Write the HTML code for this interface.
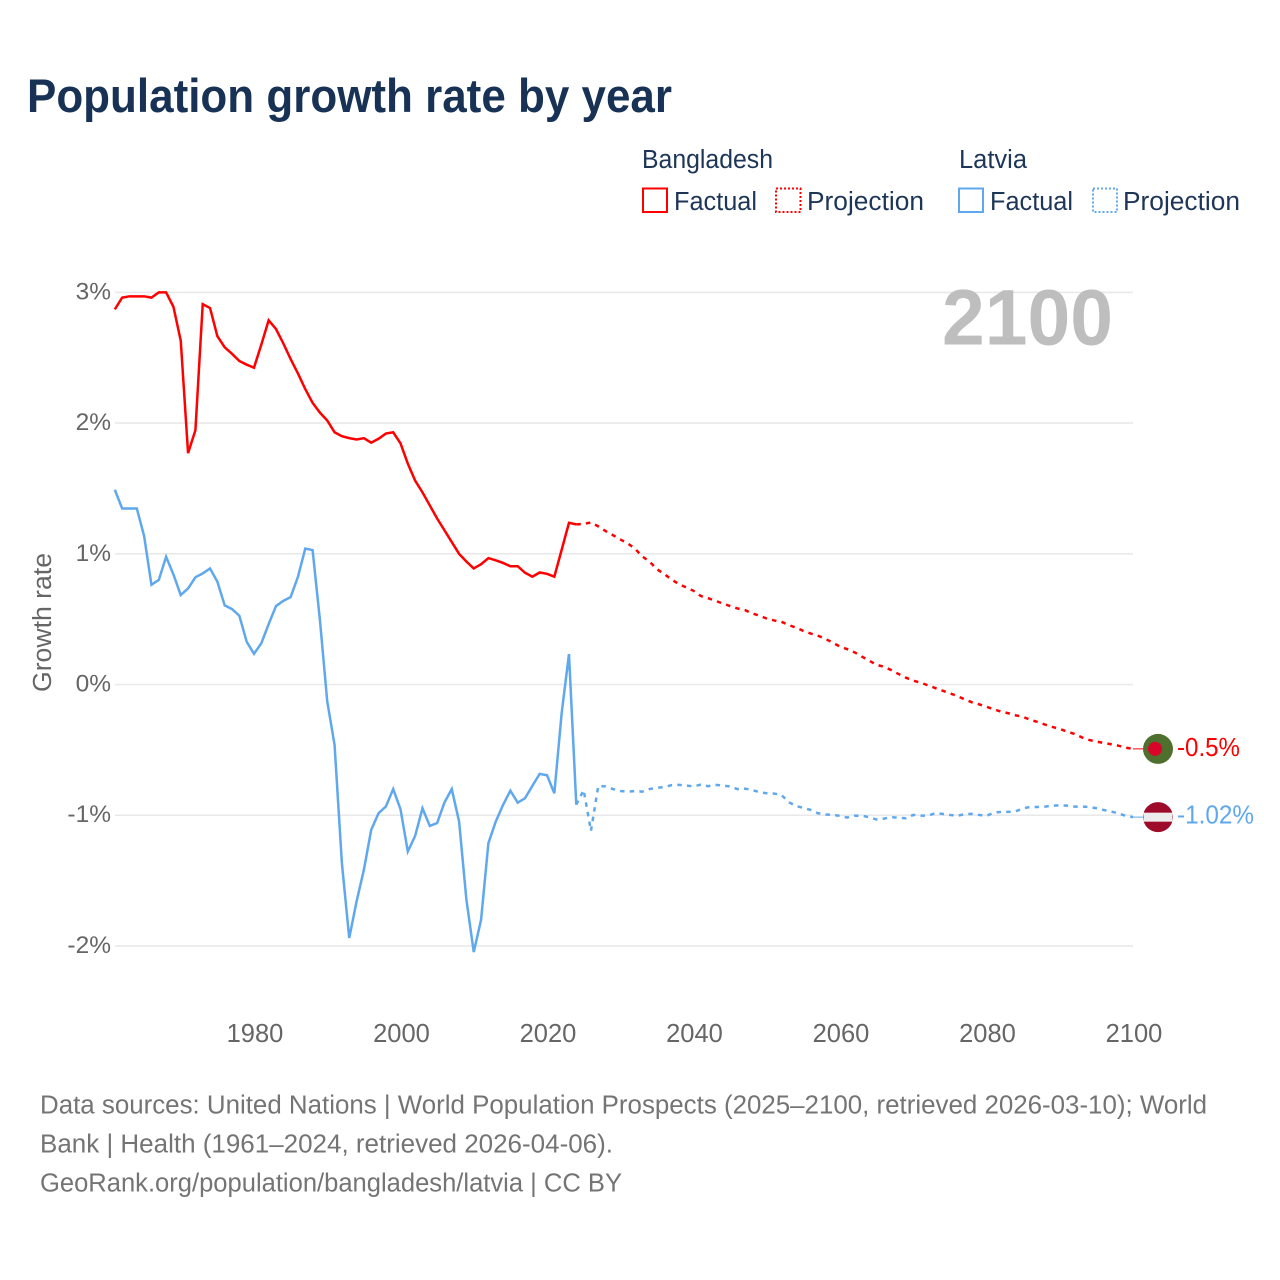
<!DOCTYPE html>
<html lang="en">
<head>
<meta charset="utf-8">
<title>Population growth rate by year</title>
<style>
  html, body { margin: 0; padding: 0; background: #fff; }
  svg { display: block; font-family: "Liberation Sans", "DejaVu Sans", sans-serif; }
</style>
</head>
<body>
<svg id="chart" xmlns="http://www.w3.org/2000/svg" width="1280" height="1280" viewBox="0 0 1280 1280">
  <rect x="0" y="0" width="1280" height="1280" fill="#ffffff"/>
  <text x="27" y="112" font-size="47.5" font-weight="700" fill="#173254" textLength="645" lengthAdjust="spacingAndGlyphs">Population growth rate by year</text>

  <g font-size="25.5" fill="#1d3557">
    <text x="642" y="168" textLength="131" lengthAdjust="spacingAndGlyphs">Bangladesh</text>
    <rect x="643" y="188.5" width="24" height="23.5" fill="none" stroke="#ff0000" stroke-width="2"/>
    <text x="674" y="210" textLength="83" lengthAdjust="spacingAndGlyphs">Factual</text>
    <rect x="776" y="188.5" width="24.5" height="23.5" fill="none" stroke="#ff0000" stroke-width="2" stroke-dasharray="2 2"/>
    <text x="807" y="210" textLength="117" lengthAdjust="spacingAndGlyphs">Projection</text>
    <text x="959" y="168" textLength="68" lengthAdjust="spacingAndGlyphs">Latvia</text>
    <rect x="959" y="188.5" width="24" height="23.5" fill="none" stroke="#5fa8ee" stroke-width="2"/>
    <text x="990" y="210" textLength="83" lengthAdjust="spacingAndGlyphs">Factual</text>
    <rect x="1093" y="188.5" width="24" height="23.5" fill="none" stroke="#5fa8ee" stroke-width="2" stroke-dasharray="2 2"/>
    <text x="1123" y="210" textLength="117" lengthAdjust="spacingAndGlyphs">Projection</text>
  </g>

  <g id="grid"></g>
  <text x="942" y="344.5" font-size="79" font-weight="700" fill="#bebebe" textLength="171" lengthAdjust="spacingAndGlyphs">2100</text>
  <g id="y-ticks" font-size="24.5" fill="#666666" text-anchor="end"></g>
  <g id="x-ticks" font-size="25.5" fill="#666666" text-anchor="middle"></g>
  <text transform="translate(51,692) rotate(-90)" font-size="25.5" fill="#666666" textLength="139" lengthAdjust="spacingAndGlyphs">Growth rate</text>
  <g id="series"></g>
  <g id="end-markers"></g>

  <g font-size="25.5" fill="#747474">
    <text x="40" y="1113.5" textLength="1167" lengthAdjust="spacingAndGlyphs">Data sources: United Nations | World Population Prospects (2025–2100, retrieved 2026-03-10); World</text>
    <text x="40" y="1152.5" textLength="573" lengthAdjust="spacingAndGlyphs">Bank | Health (1961–2024, retrieved 2026-04-06).</text>
    <text x="40" y="1191.5" textLength="582" lengthAdjust="spacingAndGlyphs">GeoRank.org/population/bangladesh/latvia | CC BY</text>
  </g>
</svg>

<script>
const yTickValues = [3, 2, 1, 0, -1, -2];
const yTickLabels = ['3%', '2%', '1%', '0%', '-1%', '-2%'];
const xTickYears = [1980, 2000, 2020, 2040, 2060, 2080, 2100];
const factualStartYear = 1961;
const projectionStartYear = 2024;
const bangladeshEndLabel = '-0.5%';
const latviaEndLabel = '-1.02%';

const bangladeshFactual = [
  2.87, 2.96, 2.97, 2.97, 2.97, 2.96, 3.0, 3.0, 2.89, 2.63,
  1.77, 1.945, 2.91, 2.88, 2.665, 2.58, 2.53, 2.475, 2.447, 2.424,
  2.6, 2.786, 2.72, 2.61, 2.49, 2.38, 2.26, 2.155, 2.08, 2.02,
  1.93, 1.90, 1.885, 1.875, 1.885, 1.85, 1.88, 1.92, 1.93, 1.845,
  1.69, 1.56, 1.47, 1.37, 1.27, 1.18, 1.09, 1.0, 0.94, 0.888,
  0.92, 0.967, 0.95, 0.93, 0.905, 0.905, 0.855, 0.825, 0.857, 0.847,
  0.825, 1.03, 1.237, 1.225
];

const bangladeshProjection = [
  1.225, 1.228, 1.24, 1.21, 1.174, 1.143, 1.11, 1.08, 1.04, 0.98,
  0.94, 0.883, 0.845, 0.804, 0.768, 0.743, 0.717, 0.677, 0.66, 0.64,
  0.62, 0.60, 0.582, 0.57, 0.544, 0.526, 0.505, 0.49, 0.48, 0.455,
  0.435, 0.41, 0.39, 0.373, 0.35, 0.32, 0.29, 0.27, 0.246, 0.213,
  0.182, 0.15, 0.136, 0.11, 0.08, 0.052, 0.03, 0.014, -0.006, -0.027,
  -0.047, -0.067, -0.088, -0.113, -0.136, -0.152, -0.17, -0.19, -0.208, -0.22,
  -0.236, -0.248, -0.271, -0.287, -0.307, -0.325, -0.34, -0.36, -0.378, -0.404,
  -0.424, -0.437, -0.447, -0.457, -0.468, -0.483, -0.493
];

const latviaFactual = [
  1.49, 1.347, 1.347, 1.347, 1.135, 0.763, 0.80, 0.977, 0.842, 0.684,
  0.735, 0.82, 0.85, 0.888, 0.786, 0.605, 0.577, 0.526, 0.327, 0.235,
  0.315, 0.462, 0.60, 0.64, 0.669, 0.824, 1.04, 1.028, 0.493, -0.13,
  -0.4625, -1.367, -1.94, -1.66, -1.418, -1.112, -0.985, -0.934, -0.80, -0.954,
  -1.278, -1.158, -0.947, -1.082, -1.06, -0.903, -0.80, -1.049, -1.648, -2.047,
  -1.80, -1.214, -1.049, -0.921, -0.812, -0.904, -0.87, -0.776, -0.684, -0.694,
  -0.832, -0.22, 0.233, -0.92
];

const latviaProjection = [
  -0.92, -0.807, -1.12, -0.776, -0.78, -0.80, -0.815, -0.82, -0.815, -0.82,
  -0.80, -0.79, -0.785, -0.77, -0.768, -0.773, -0.78, -0.766, -0.778, -0.768,
  -0.773, -0.78, -0.80, -0.797, -0.807, -0.824, -0.832, -0.835, -0.845, -0.90,
  -0.93, -0.944, -0.96, -0.985, -0.995, -0.998, -1.005, -1.018, -1.003, -1.005,
  -1.015, -1.033, -1.026, -1.015, -1.02, -1.023, -0.998, -1.003, -1.003, -0.985,
  -0.99, -0.998, -1.005, -0.992, -0.99, -0.998, -1.005, -0.98, -0.975, -0.975,
  -0.97, -0.947, -0.937, -0.937, -0.934, -0.927, -0.924, -0.927, -0.934, -0.934,
  -0.937, -0.947, -0.96, -0.972, -0.985, -1.005, -1.015
];

const SVG_NS = 'http://www.w3.org/2000/svg';
const RED = '#ff0000';
const BLUE = '#5fa8ee';

function xTickScale(year) { return 255 + (year - 1980) * (1134 - 255) / 120; }
function xScale(year) { return xTickScale(year) - 1; }
function yScale(value) { return 684.5 - value * 130.7; }

function svgEl(tag, parentId) {
  const el = document.createElementNS(SVG_NS, tag);
  document.getElementById(parentId).appendChild(el);
  return el;
}

function linePoints(values, startYear) {
  return values.map(function (v, i) {
    return xScale(startYear + i).toFixed(2) + ',' + yScale(v).toFixed(2);
  }).join(' ');
}

yTickValues.forEach(function (v, i) {
  const line = svgEl('line', 'grid');
  
  
  line.setAttribute('x1', xScale(factualStartYear));
  line.setAttribute('x2', xScale(2100));
  line.setAttribute('y1', yScale(v));
  line.setAttribute('y2', yScale(v));
  line.setAttribute('stroke', '#e9e9e9');
  line.setAttribute('stroke-width', '1.6');

  const label = svgEl('text', 'y-ticks');
  
  
  label.setAttribute('x', 111);
  label.setAttribute('y', yScale(v) + 7);
  label.textContent = yTickLabels[i];
});

xTickYears.forEach(function (year) {
  const label = svgEl('text', 'x-ticks');
  
  
  label.setAttribute('x', xTickScale(year));
  label.setAttribute('y', 1042);
  label.textContent = String(year);
});

const bdFactualLine = svgEl('polyline', 'series');


bdFactualLine.setAttribute('points', linePoints(bangladeshFactual, factualStartYear));
bdFactualLine.setAttribute('fill', 'none');
bdFactualLine.setAttribute('stroke', RED);
bdFactualLine.setAttribute('stroke-width', '2.5');

const lvFactualLine = svgEl('polyline', 'series');


lvFactualLine.setAttribute('points', linePoints(latviaFactual, factualStartYear));
lvFactualLine.setAttribute('fill', 'none');
lvFactualLine.setAttribute('stroke', BLUE);
lvFactualLine.setAttribute('stroke-width', '2.5');

const bdProjectionLine = svgEl('polyline', 'series');


bdProjectionLine.setAttribute('points', linePoints(bangladeshProjection, projectionStartYear));
bdProjectionLine.setAttribute('fill', 'none');
bdProjectionLine.setAttribute('stroke', RED);
bdProjectionLine.setAttribute('stroke-width', '2.5');
bdProjectionLine.setAttribute('stroke-dasharray', '4.5 5.2');

const lvProjectionLine = svgEl('polyline', 'series');


lvProjectionLine.setAttribute('points', linePoints(latviaProjection, projectionStartYear));
lvProjectionLine.setAttribute('fill', 'none');
lvProjectionLine.setAttribute('stroke', BLUE);
lvProjectionLine.setAttribute('stroke-width', '2.5');
lvProjectionLine.setAttribute('stroke-dasharray', '4.5 5.2');

const xEnd = xScale(2100);
const flagX = xTickScale(2100) + 24;
const bdEndY = yScale(bangladeshProjection[bangladeshProjection.length - 1]);
const lvEndY = yScale(latviaProjection[latviaProjection.length - 1]);

const bdConnector = svgEl('line', 'end-markers');


bdConnector.setAttribute('x1', xEnd);
bdConnector.setAttribute('x2', flagX);
bdConnector.setAttribute('y1', bdEndY);
bdConnector.setAttribute('y2', bdEndY);
bdConnector.setAttribute('stroke', RED);
bdConnector.setAttribute('stroke-width', '1');

const lvConnector = svgEl('line', 'end-markers');


lvConnector.setAttribute('x1', xEnd);
lvConnector.setAttribute('x2', flagX);
lvConnector.setAttribute('y1', lvEndY);
lvConnector.setAttribute('y2', lvEndY);
lvConnector.setAttribute('stroke', BLUE);
lvConnector.setAttribute('stroke-width', '1');

const bdFlag = svgEl('circle', 'end-markers');


bdFlag.setAttribute('cx', flagX);
bdFlag.setAttribute('cy', bdEndY);
bdFlag.setAttribute('r', 15);
bdFlag.setAttribute('fill', '#4f6f2e');

const bdDisc = svgEl('circle', 'end-markers');


bdDisc.setAttribute('cx', flagX - 3);
bdDisc.setAttribute('cy', bdEndY);
bdDisc.setAttribute('r', 7);
bdDisc.setAttribute('fill', '#d8042a');

const lvFlag = svgEl('circle', 'end-markers');


lvFlag.setAttribute('cx', flagX);
lvFlag.setAttribute('cy', lvEndY);
lvFlag.setAttribute('r', 15);
lvFlag.setAttribute('fill', '#9e0a2a');

const lvBand = svgEl('rect', 'end-markers');


lvBand.setAttribute('x', flagX - 14.5);
lvBand.setAttribute('y', lvEndY - 4.5);
lvBand.setAttribute('width', 29);
lvBand.setAttribute('height', 9);
lvBand.setAttribute('fill', '#ececec');

const bdEndText = svgEl('text', 'end-markers');


bdEndText.setAttribute('x', flagX + 19);
bdEndText.setAttribute('y', bdEndY + 7);
bdEndText.setAttribute('font-size', '25.5');
bdEndText.setAttribute('fill', RED);
bdEndText.setAttribute('textLength', '63');
bdEndText.setAttribute('lengthAdjust', 'spacingAndGlyphs');
bdEndText.textContent = bangladeshEndLabel;

const lvEndText = svgEl('text', 'end-markers');


lvEndText.setAttribute('x', flagX + 19);
lvEndText.setAttribute('y', lvEndY + 6.5);
lvEndText.setAttribute('font-size', '25.5');
lvEndText.setAttribute('fill', BLUE);
lvEndText.setAttribute('textLength', '77');
lvEndText.setAttribute('lengthAdjust', 'spacingAndGlyphs');
lvEndText.textContent = latviaEndLabel;
</script>
</body>
</html>
